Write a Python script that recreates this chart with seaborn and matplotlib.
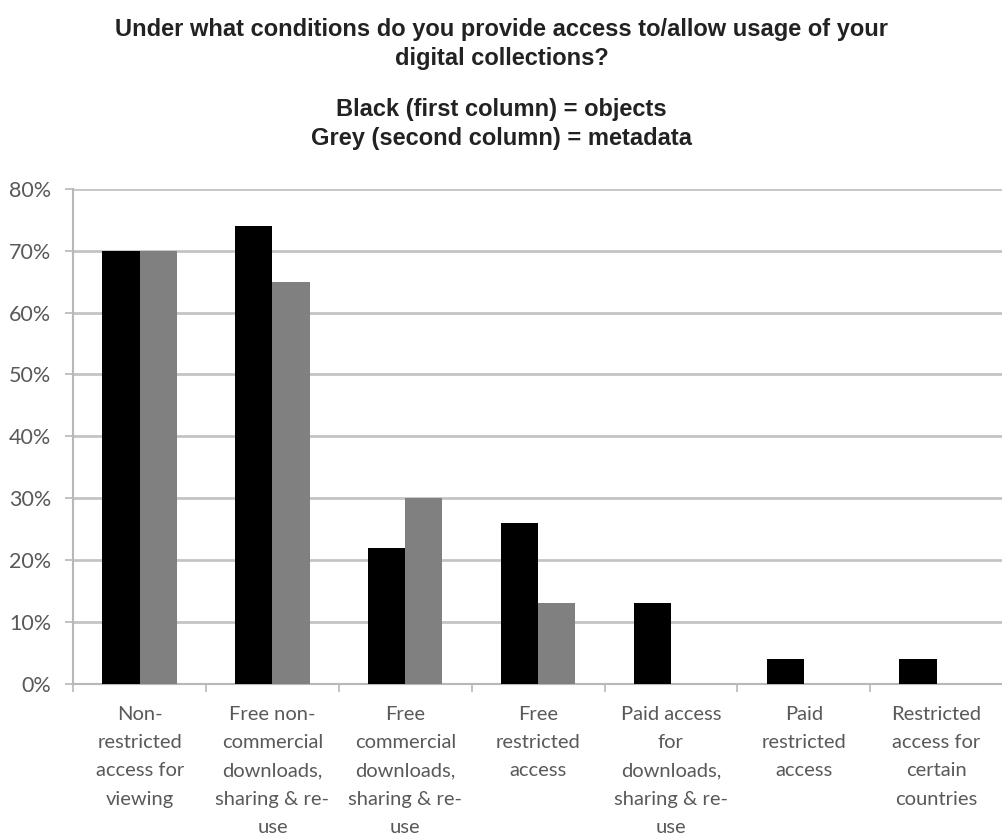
import numpy as np
import pandas as pd
import matplotlib
matplotlib.use('Agg')
import matplotlib.pyplot as plt
import seaborn as sns
from matplotlib.ticker import PercentFormatter, FixedLocator

# data (% of respondents)
categories = [
    'Non-\nrestricted\naccess for\nviewing',
    'Free non-\ncommercial\ndownloads,\nsharing & re-\nuse',
    'Free\ncommercial\ndownloads,\nsharing & re-\nuse',
    'Free\nrestricted\naccess',
    'Paid access\nfor\ndownloads,\nsharing & re-\nuse',
    'Paid\nrestricted\naccess',
    'Restricted\naccess for\ncertain\ncountries',
]
objects_pct  = [70, 74, 22, 26, 13, 4, 4]
metadata_pct = [70, 65, 30, 13, 0, 0, 0]
series_names = ['objects', 'metadata']
series_colors = ['#000000', '#808080']

df = pd.DataFrame({
    'category': categories * 2,
    'series':   [series_names[0]] * len(categories) + [series_names[1]] * len(categories),
    'value':    objects_pct + metadata_pct,
})

sns.set_theme(style='white')
plt.rcParams['font.family'] = ['Lato', 'DejaVu Sans']

fig = plt.figure(figsize=(10.03, 8.39), dpi=100)
ax = fig.add_axes([0.073, 0.185, 0.927, 0.590])

sns.barplot(data=df, x='category', y='value', hue='series',
            palette=series_colors, width=0.56, saturation=1,
            edgecolor='none', legend=False, ax=ax, zorder=3)

ax.set_xlim(-0.5, len(categories) - 0.5)
ax.set_ylim(0, 80)
ax.set_yticks(np.arange(0, 81, 10))
ax.yaxis.set_major_formatter(PercentFormatter(decimals=0))
ax.grid(axis='y', color='#c4c4c4', linewidth=2, zorder=0)
ax.set_xlabel('')
ax.set_ylabel('')

for side in ['top', 'right']:
    ax.spines[side].set_visible(False)
for side in ['left', 'bottom']:
    ax.spines[side].set_color('#b8b8b8')
    ax.spines[side].set_linewidth(1.5)

# tick marks between categories, none under the labels
ax.xaxis.set_minor_locator(FixedLocator(np.arange(-0.5, len(categories), 1.0)))
ax.tick_params(axis='x', which='major', length=0, pad=16,
               labelsize=14.5, labelcolor='#595959')
ax.tick_params(axis='x', which='minor', length=6, width=1.2,
               color='#b8b8b8', direction='out', bottom=True)
ax.tick_params(axis='y', length=6, width=1.2, color='#b8b8b8',
               direction='out', left=True, pad=10,
               labelsize=15.5, labelcolor='#595959')
for lab in ax.get_xticklabels():
    lab.set_linespacing(1.8)
    lab.set_horizontalalignment('center')

fig.text(0.5, 0.979,
         'Under what conditions do you provide access to/allow usage of your\n'
         'digital collections?',
         ha='center', va='top', fontsize=17, fontweight='bold',
         family=['Liberation Sans', 'DejaVu Sans'], linespacing=1.33,
         color='#222222')
fig.text(0.5, 0.883,
         'Black (first column) = objects\nGrey (second column) = metadata',
         ha='center', va='top', fontsize=17, fontweight='bold',
         family=['Liberation Sans', 'DejaVu Sans'], linespacing=1.33,
         color='#222222')

fig.savefig('out.png', dpi=100, facecolor='white')
